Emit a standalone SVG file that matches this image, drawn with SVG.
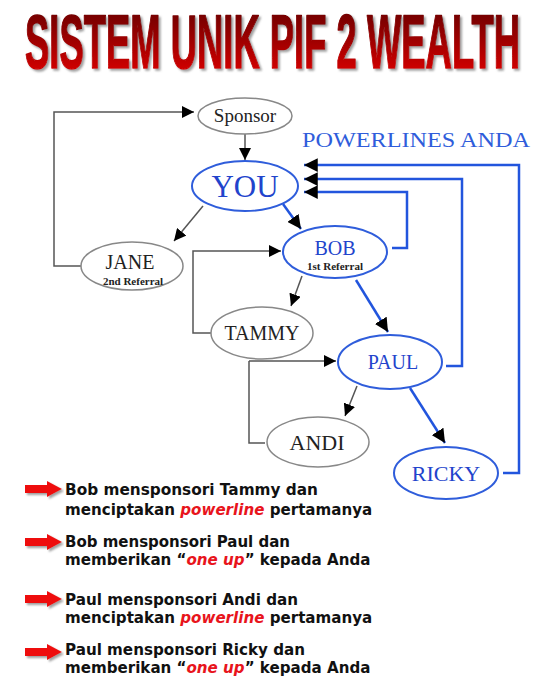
<svg xmlns="http://www.w3.org/2000/svg" width="550" height="700" viewBox="0 0 550 700">
<defs>
<linearGradient id="tg" x1="0" y1="0" x2="0" y2="1">
<stop offset="0" stop-color="#5e0000"/>
<stop offset="0.5" stop-color="#a00000"/>
<stop offset="1" stop-color="#e80808"/>
</linearGradient>
<filter id="sh" x="-5%" y="-20%" width="110%" height="140%">
<feDropShadow dx="2" dy="2" stdDeviation="1.2" flood-color="#777" flood-opacity="0.7"/>
</filter>
<filter id="tsh" filterUnits="userSpaceOnUse" x="0" y="0" width="550" height="90">
<feDropShadow dx="2" dy="2" stdDeviation="1.2" flood-color="#777" flood-opacity="0.7"/>
</filter>
<marker id="ahb" viewBox="0 0 10 10" refX="10" refY="5" markerWidth="5.5" markerHeight="5.5" orient="auto" markerUnits="strokeWidth">
<path d="M0,0 L10,5 L0,10 z" fill="#000"/>
</marker>
<marker id="ahg" viewBox="0 0 10 10" refX="10" refY="5" markerWidth="12" markerHeight="12" orient="auto" markerUnits="userSpaceOnUse">
<path d="M0,0 L10,5 L0,10 z" fill="#000"/>
</marker>
<path id="redarrow" d="M0,-4 L22,-4 L22,-8 L37,0 L22,8 L22,4 L0,4 z" fill="#ee1111" filter="url(#sh)"/>
</defs>
<style>
.gray{fill:#fff;stroke:#888;stroke-width:1.5}
.blue{fill:#fff;stroke:#2f5ddb;stroke-width:2}
.ser{font-family:"Liberation Serif","DejaVu Serif",serif;text-anchor:middle}
.dk{fill:#222}
.bl{fill:#2244cc}
.gl{fill:none;stroke:#555;stroke-width:1.5}
.bll{fill:none;stroke:#2255dd;stroke-width:2.5}
.note{font-family:"Comic Sans MS","DejaVu Sans","Liberation Sans",sans-serif;font-size:16px;font-weight:bold;fill:#111}
.n2{font-size:15.1px}
.red{fill:#e8141c;font-style:italic}
</style>
<rect width="550" height="700" fill="#fff"/>
<g id="title" filter="url(#tsh)">
<text x="25" y="68" font-family="Liberation Sans Narrow,Liberation Sans,sans-serif" font-weight="bold" font-size="76" textLength="495" lengthAdjust="spacingAndGlyphs" fill="url(#tg)" stroke="url(#tg)" stroke-width="1.6" stroke-linejoin="round">SISTEM UNIK PIF 2 WEALTH</text>
</g>

<g id="connectors">
<path class="gl" d="M245,134 L245,160" marker-end="url(#ahg)"/>
<path class="gl" d="M81,266 L54,266 L54,112 L194,112" marker-end="url(#ahg)"/>
<path class="gl" d="M203,206 L174,241" marker-end="url(#ahg)"/>
<path class="bll" d="M283,204 L301,229" marker-end="url(#ahb)"/>
<path class="gl" d="M211,333 L193,333 L193,251 L281,251" marker-end="url(#ahg)"/>
<path class="gl" d="M302,276 L291,306" marker-end="url(#ahg)"/>
<path class="bll" d="M356,280 L388,332" marker-end="url(#ahb)"/>
<path class="gl" d="M249,361 L249,443 L265,443 M249,361 L336,361" marker-end="url(#ahg)"/>
<path class="gl" d="M357,386 L345,416" marker-end="url(#ahg)"/>
<path class="bll" d="M410,388 L445,443" marker-end="url(#ahb)"/>
<path class="bll" d="M392,248 L407,248 L407,192 L304,192" marker-end="url(#ahb)"/>
<path class="bll" d="M446,366 L462,366 L462,179 L304,179" marker-end="url(#ahb)"/>
<path class="bll" d="M503,473 L519,473 L519,165 L304,165" marker-end="url(#ahb)"/>
</g>

<g id="sponsor"><ellipse class="gray" cx="245" cy="116" rx="47" ry="18"/><text class="ser dk" x="245" y="122" font-size="19">Sponsor</text></g>
<g id="you"><ellipse class="blue" cx="245" cy="186" rx="53" ry="25"/><text class="ser bl" x="245" y="197" font-size="31">YOU</text></g>
<g id="jane"><ellipse class="gray" cx="132" cy="266" rx="51" ry="24"/><text class="ser dk" x="130" y="269" font-size="20">JANE</text><text class="ser dk" x="133" y="285" font-size="11" font-weight="bold">2nd Referral</text></g>
<g id="bob"><ellipse class="blue" cx="335" cy="252" rx="52" ry="26"/><text class="ser bl" x="335" y="255" font-size="20">BOB</text><text class="ser dk" x="335" y="270" font-size="11" font-weight="bold">1st Referral</text></g>
<g id="tammy"><ellipse class="gray" cx="262" cy="333" rx="51" ry="26"/><text class="ser dk" x="262" y="340" font-size="20">TAMMY</text></g>
<g id="paul"><ellipse class="blue" cx="390" cy="362" rx="52" ry="27"/><text class="ser bl" x="393" y="369" font-size="20">PAUL</text></g>
<g id="andi"><ellipse class="gray" cx="318" cy="442" rx="51" ry="25"/><text class="ser dk" x="317" y="450" font-size="22">ANDI</text></g>
<g id="ricky"><ellipse class="blue" cx="446" cy="473" rx="52" ry="26"/><text class="ser bl" x="446" y="481" font-size="22">RICKY</text></g>
<g id="powerlines"><text x="302" y="147" font-family="Liberation Serif,DejaVu Serif,serif" font-size="20" fill="#2f5ddb" textLength="228" lengthAdjust="spacingAndGlyphs">POWERLINES ANDA</text></g>

<g id="notes">
<use href="#redarrow" x="25" y="489"/>
<use href="#redarrow" x="25" y="542"/>
<use href="#redarrow" x="25" y="599"/>
<use href="#redarrow" x="25" y="652"/>
<text class="note" x="65" y="495" textLength="253" lengthAdjust="spacingAndGlyphs">Bob mensponsori Tammy dan</text>
<text class="note n2" x="65" y="515">menciptakan <tspan class="red">powerline</tspan> pertamanya</text>
<text class="note" x="65" y="547" textLength="225" lengthAdjust="spacingAndGlyphs">Bob mensponsori Paul dan</text>
<text class="note n2" x="65" y="565">memberikan “<tspan class="red">one up</tspan>” kepada Anda</text>
<text class="note" x="65" y="605" textLength="233" lengthAdjust="spacingAndGlyphs">Paul mensponsori Andi dan</text>
<text class="note n2" x="65" y="623">menciptakan <tspan class="red">powerline</tspan> pertamanya</text>
<text class="note" x="65" y="655" textLength="240" lengthAdjust="spacingAndGlyphs">Paul mensponsori Ricky dan</text>
<text class="note n2" x="65" y="673">memberikan “<tspan class="red">one up</tspan>” kepada Anda</text>
</g>
</svg>
